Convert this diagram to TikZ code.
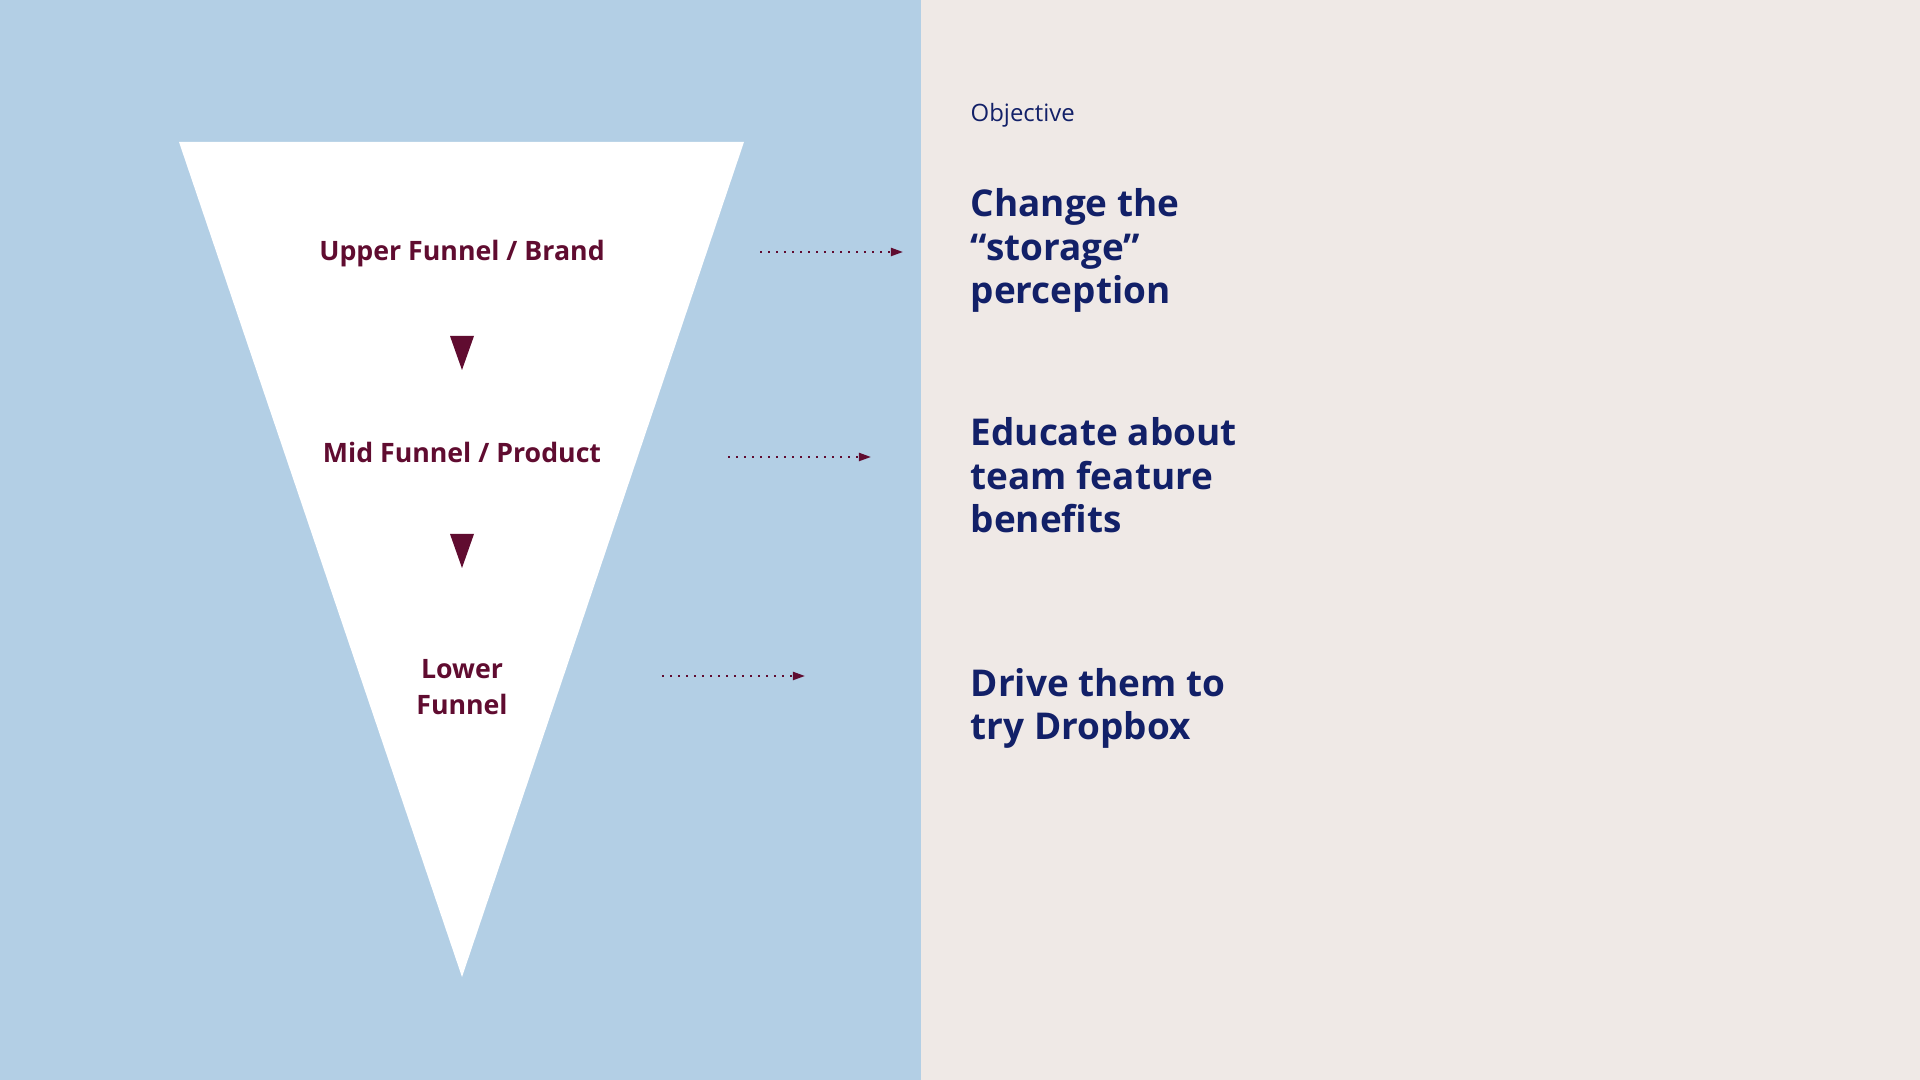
\documentclass[tikz,border=0pt]{standalone}
\usepackage{fontspec}
\setmainfont{Open Sans}
\usetikzlibrary{arrows.meta}
\definecolor{funnelblue}{RGB}{179,207,229}
\definecolor{paper}{RGB}{239,233,230}
\definecolor{wine}{RGB}{96,12,48}
\definecolor{navy}{RGB}{18,32,104}
\begin{document}
\begin{tikzpicture}[x=0.01cm,y=-0.01cm,
    stage/.style={text=wine,font=\fontsize{7.6}{10.3}\selectfont\bfseries,align=center,anchor=base,inner sep=0pt},
    goal/.style={text=navy,font=\fontsize{10.5}{12.5}\selectfont\bfseries,align=left,anchor=base west,inner sep=0pt},
    dots/.style={wine,line width=0.02cm,dash pattern=on 0.02cm off 0.06cm,-{Triangle[length=0.12cm,width=0.08cm]}},
    marker/.style={fill=wine}]
    \useasboundingbox (0,0) rectangle (1920,1080);
    \fill [funnelblue] (0,0) rectangle (921,1080);
    \fill [paper] (921,0) rectangle (1920,1080);
    \fill [white] (179,142) -- (744,142) -- (462,977) -- cycle;
    \node (upper) [stage] at (462,261) {Upper Funnel / Brand};
    \node (mid) [stage] at (462,463) {Mid Funnel / Product};
    \node (lower) [stage] at (462,715) {Lower\\Funnel};
    \fill [marker] (450,336) -- (474,336) -- (462,370) -- cycle;
    \fill [marker] (450,534) -- (474,534) -- (462,568) -- cycle;
    \node (obj) [anchor=base west,inner sep=0pt,text=navy,font=\fontsize{6.8}{8}\selectfont] at (970,122) {Objective};
    \node (change) [goal] at (970,304) {Change the\\``storage''\\perception};
    \node (educate) [goal] at (970,533) {Educate about\\team feature\\benefits};
    \node (drive) [goal] at (970,740) {Drive them to\\try Dropbox};
    \coordinate (a1) at (760,252);
    \coordinate (b1) at (903,252);
    \coordinate (a2) at (728,457);
    \coordinate (b2) at (871,457);
    \coordinate (a3) at (662,676);
    \coordinate (b3) at (805,676);
    \draw [dots] (a1) to (b1);
    \draw [dots] (a2) to (b2);
    \draw [dots] (a3) to (b3);
  \end{tikzpicture}
\end{document}
